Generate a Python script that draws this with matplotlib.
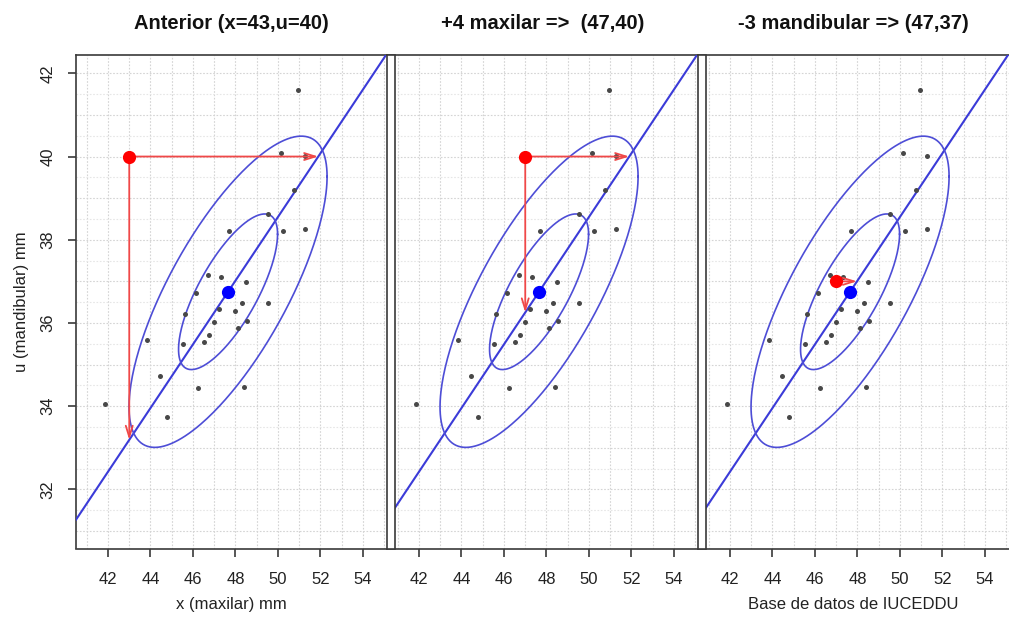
import numpy as np
import matplotlib
matplotlib.use("Agg")
import matplotlib.pyplot as plt
from matplotlib.patches import Rectangle, FancyArrowPatch

# Sample: maxillary (x) and mandibular (u) tooth-size sums, mm
x_mm = [50.94, 50.13, 51.27, 50.77, 49.53, 47.69, 50.24, 51.27, 46.69, 47.30,
        48.51, 46.13, 48.29, 49.55, 47.22, 47.96, 45.61, 46.97, 48.54, 48.12,
        43.85, 46.75, 46.50, 45.55, 44.43, 46.25, 48.40, 41.86, 44.76]
u_mm = [41.59, 40.09, 40.01, 39.19, 38.63, 38.21, 38.20, 38.27, 37.15, 37.11,
        36.99, 36.72, 36.49, 36.48, 36.34, 36.29, 36.21, 36.02, 36.04, 35.89,
        35.60, 35.70, 35.55, 35.50, 34.72, 34.43, 34.46, 34.06, 33.74]

# Sample centre and spread
mean_x, mean_u = 47.65, 36.75
sd_x, sd_u, rho = 2.33, 1.87, 0.74
line_slope = 0.7655
ellipse_levels = [1, 2]

# Patient point in each scenario
titles = ["Anterior (x=43,u=40)", "+4 maxilar =>  (47,40)", "-3 mandibular => (47,37)"]
patient_x = [43, 47, 47]
patient_u = [40, 40, 37]

x_ticks = [42, 44, 46, 48, 50, 52, 54]
u_ticks = [32, 34, 36, 38, 40, 42]

W, H = 1009, 625
fig = plt.figure(figsize=(W / 100, H / 100), dpi=100)
plt.rcParams['font.family'] = ['Liberation Sans', 'DejaVu Sans']

line_col = "#3b3bd8"
ell_col = "#4d4dd6"
arrow_col = "#f04848"
frame_col = "#3a3a3a"

def line_u(x):
    return mean_u + line_slope * (np.asarray(x) - mean_x)

xlim = (40.494, 55.13)
ylim = (30.58, 42.44)
panel_w = 311
left0 = 76
bot_px, top_px = 548.5, 55

cov = np.array([[sd_x ** 2, rho * sd_x * sd_u], [rho * sd_x * sd_u, sd_u ** 2]])
L = np.linalg.cholesky(cov)
t = np.linspace(0, 2 * np.pi, 300)
circle = np.vstack([np.cos(t), np.sin(t)])

for i in range(3):
    l = (left0 + panel_w * i) / W
    b = (H - bot_px) / H
    ax = fig.add_axes([l, b, panel_w / W, (bot_px - top_px) / H])
    ax.set_xlim(*xlim)
    ax.set_ylim(*ylim)

    # grid
    for gx in np.arange(41, 56, 1.0):
        ax.axvline(gx, color="#d4d4d4", lw=0.8, ls=(0, (1.5, 1.5)), zorder=0)
    for gu in np.arange(31, 42.5, 0.5):
        ax.axhline(gu, color="#d4d4d4" if gu % 1 == 0 else "#e6e6e6",
                   lw=0.8, ls=(0, (1.5, 1.5)), zorder=0)

    # fitted line
    xs = np.array(xlim)
    ax.plot(xs, line_u(xs), color=line_col, lw=1.5, zorder=3)

    # ellipses
    for k in ellipse_levels:
        pts = k * (L @ circle)
        ax.plot(mean_x + pts[0], mean_u + pts[1], color=ell_col, lw=1.2, zorder=3)

    # sample
    ax.plot(x_mm, u_mm, 'o', color="#484848", ms=3.6, mec="none", zorder=4)

    # arrows from patient point to the line
    px, pu = patient_x[i], patient_u[i]
    x_on_line = mean_x + (pu - mean_u) / line_slope
    u_on_line = float(line_u(px))
    arr_kw = dict(arrowstyle="->,head_length=0.8,head_width=0.25", color=arrow_col,
                  lw=1.3, mutation_scale=10, shrinkA=0, shrinkB=0, zorder=5)
    ax.add_patch(FancyArrowPatch((px, pu), (x_on_line, pu), **arr_kw))
    if i < 2:
        ax.add_patch(FancyArrowPatch((px, pu), (px, u_on_line), **arr_kw))

    ax.plot([mean_x], [mean_u], 'o', color="#0000ff", ms=9.5, mec="none", zorder=6)
    ax.plot([px], [pu], 'o', color="#ff0000", ms=9.5, mec="none", zorder=6)

    for s in ['top', 'bottom', 'left', 'right']:
        ax.spines[s].set_color(frame_col)
        ax.spines[s].set_linewidth(1.2)
    ax.spines['right'].set_visible(False)
    if i > 0:
        ax.spines['left'].set_visible(False)

    ax.set_xticks(x_ticks)
    ax.set_xticklabels([str(v) for v in x_ticks],
                       fontfamily=['Liberation Sans Narrow', 'Liberation Sans'], fontsize=12)
    ax.tick_params(axis='x', length=6, width=1.2, color=frame_col, pad=11, labelcolor="#222222")
    if i == 0:
        ax.set_yticks(u_ticks)
        ax.set_yticklabels([str(v) for v in u_ticks], rotation=90, va='center',
                           fontfamily=['Liberation Sans Narrow', 'Liberation Sans'], fontsize=12)
        ax.tick_params(axis='y', length=6, width=1.2, color=frame_col, pad=9, labelcolor="#222222")
        ax.set_ylabel("u (mandibular) mm", fontsize=12, labelpad=8, color="#222222")
    else:
        ax.set_yticks([])

    ax.set_title(titles[i], fontsize=14.5, fontweight='bold', pad=19, color="#111111")
    if i == 0:
        ax.set_xlabel("x (maxilar) mm", fontsize=12, labelpad=7, color="#222222")
    if i == 2:
        ax.set_xlabel("Base de datos de IUCEDDU", fontsize=12, labelpad=7, color="#222222")

# narrow frames separating the panels
for i in range(1, 3):
    x0 = left0 + panel_w * i
    fig.patches.append(Rectangle((x0 / W, (H - bot_px) / H), 8 / W, (bot_px - top_px) / H,
                                 transform=fig.transFigure, facecolor="white",
                                 edgecolor=frame_col, lw=1.2, zorder=10))

fig.savefig("out.png", dpi=100)
